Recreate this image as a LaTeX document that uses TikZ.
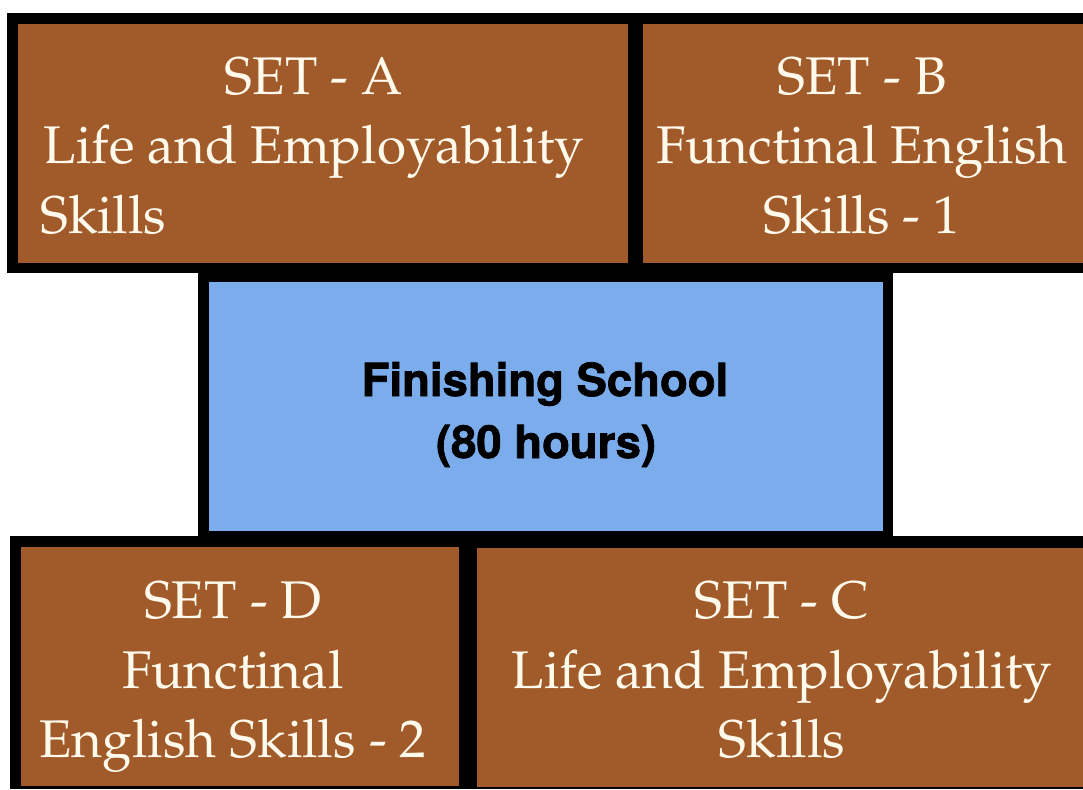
\documentclass[tikz,border=0pt]{standalone}
\usepackage[T1]{fontenc}
\usepackage{fontspec}
\newfontfamily\herosfont{TeX Gyre Heros}[BoldFeatures={FakeBold=1.6}]
\definecolor{brownfill}{RGB}{161,91,42}
\definecolor{bluefill}{RGB}{123,172,236}
\definecolor{creamtext}{RGB}{255,250,236}
\tikzset{
  frame/.style={fill=black, draw=none},
  brownbox/.style={fill=brownfill, draw=none},
  bluebox/.style={fill=bluefill, draw=none},
  settext/.style={text=creamtext, inner sep=0pt, anchor=base,
    font=\usefont{T1}{ppl}{m}{n}\fontsize{53}{68}\selectfont},
  schooltext/.style={text=black, inner sep=0pt, anchor=base,
    font=\herosfont\bfseries\fontsize{45.5}{62}\selectfont},
}
\begin{document}
\begin{tikzpicture}[x=1pt,y=-1pt]
\useasboundingbox (0,0) rectangle (1083,789);
% black frames
\fill[frame] (7,13) rectangle (1083,273);
\fill[frame] (198,273) rectangle (893,536);
\fill[frame] (10,536) rectangle (1083,789);
% boxes
\node[brownbox, anchor=north west, minimum width=610pt, minimum height=239pt, inner sep=0pt] (A) at (18,24) {};
\node[brownbox, anchor=north west, minimum width=440pt, minimum height=239pt, inner sep=0pt] (B) at (643,24) {};
\node[bluebox, anchor=north west, minimum width=674pt, minimum height=249pt, inner sep=0pt] (S) at (209,282) {};
\node[brownbox, anchor=north west, minimum width=438pt, minimum height=239pt, inner sep=0pt] (D) at (21,547) {};
\node[brownbox, anchor=north west, minimum width=606pt, minimum height=239pt, inner sep=0pt] (C) at (477,548) {};
% SET A
\node[settext] (a1) at (314,95) {SET - A};
\node[settext] (a2) at (314,163) {Life and Employability};
\node[settext, anchor=base west] (a3) at (40,233) {Skills};
% SET B
\node[settext] (b1) at (862,95) {SET - B};
\node[settext] (b2) at (862,163) {Functinal English};
\node[settext] (b3) at (862,233) {Skills - 1};
% SET D
\node[settext] (d1) at (233,618) {SET - D};
\node[settext] (d2) at (233,688) {Functinal};
\node[settext] (d3) at (233,757) {English Skills - 2};
% SET C
\node[settext] (c1) at (782,618) {SET - C};
\node[settext] (c2) at (782,688) {Life and Employability};
\node[settext] (c3) at (782,757) {Skills};
% Finishing school
\node[schooltext] (s1) at (545,396) {Finishing School};
\node[schooltext] (s2) at (546,458) {(80 hours)};
\end{tikzpicture}
\end{document}
